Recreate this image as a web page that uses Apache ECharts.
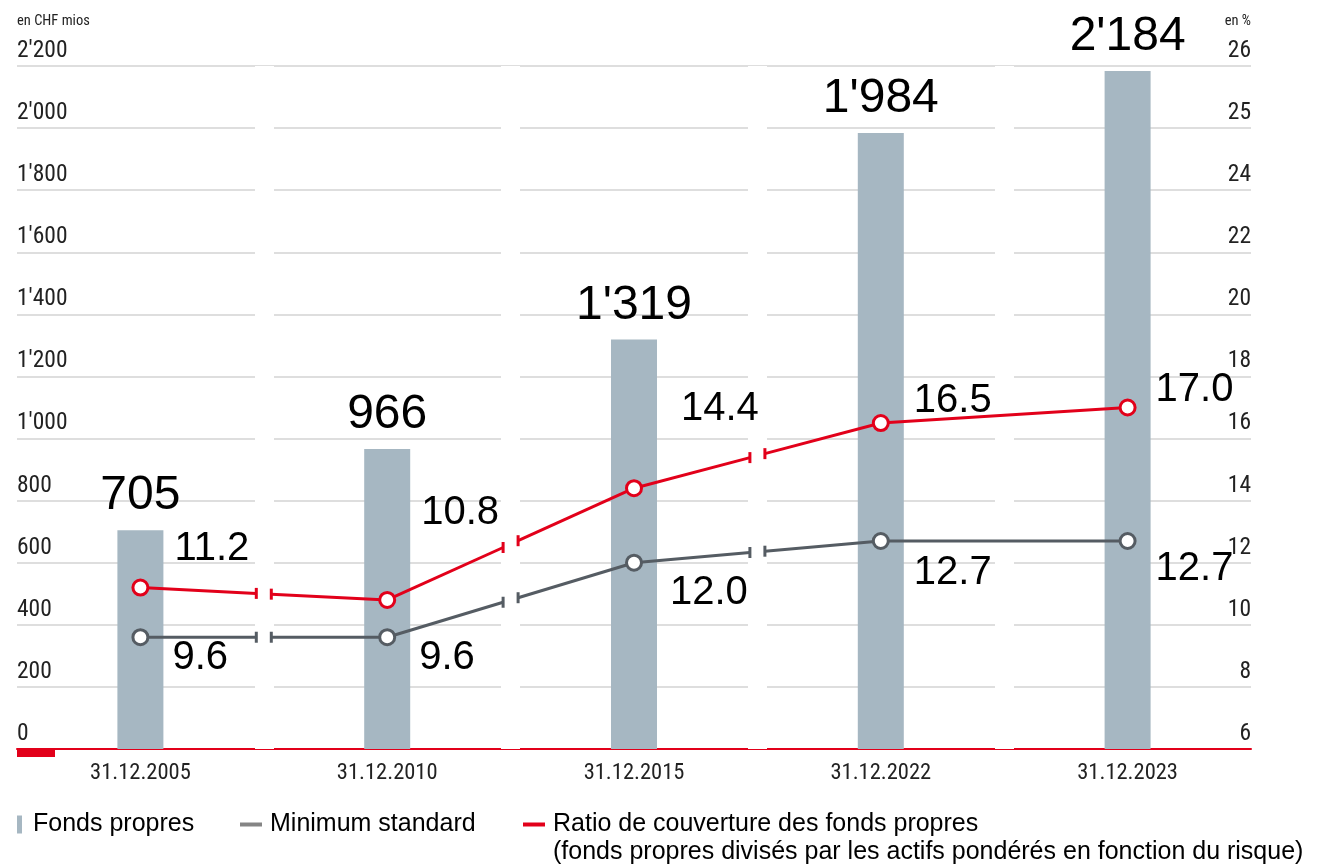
<!DOCTYPE html>
<html>
<head>
<meta charset="utf-8">
<script src="https://cdn.jsdelivr.net/npm/echarts@6/dist/echarts.min.js"></script>
<style>
  html, body { margin: 0; padding: 0; background: #fff; }
  #chart { width: 1319px; height: 864px; }
</style>
</head>
<body>
<div id="chart"></div>
<script>
// ---- data ----
const categories = ['31.12.2005', '31.12.2010', '31.12.2015', '31.12.2022', '31.12.2023'];
const fondsPropres = [705, 966, 1319, 1984, 2184];
const minimumStandard = [9.6, 9.6, 12.0, 12.7, 12.7];
const ratioCouverture = [11.2, 10.8, 14.4, 16.5, 17.0];
const rightTickValues = [6, 8, 10, 12, 14, 16, 18, 20, 22, 24, 26, 28];
const rightTickLabels = ['6', '8', '10', '12', '14', '16', '18', '20', '22', '24', '25', '26'];
const legendNoteText = '(fonds propres divisés par les actifs pondérés en fonction du risque)';

// ---- styling ----
const ratioLabelOffsets = [[0, -39], [0, -87], [13, -79], [-1, -22], [-6, -18]];
const minLabelOffsets = [[-2, 21], [-2, 21], [2, 30], [-1, 32], [-6, 28]];
const segmentBreaks = [true, true, true, false];

const RED = '#e2001a';
const GREY = '#555c63';
const BAR = '#a6b7c2';
const SANS = "'Liberation Sans', Arial, sans-serif";

// pick a condensed font if one is installed
const measureCtx = document.createElement('canvas').getContext('2d');
function textWidth(font, txt) { measureCtx.font = font; return measureCtx.measureText(txt).width; }
function fontAvailable(name) {
  const t = 'mmmwwwiii 31.12.2005';
  return textWidth("40px monospace", t) !== textWidth("40px '" + name + "', monospace", t);
}
const narrowCandidates = ['Liberation Sans Narrow', 'Arial Narrow', 'Roboto Condensed', 'Noto Sans Condensed',
  'Open Sans Condensed', 'DejaVu Sans Condensed', 'Liberation Sans'];
let narrowName = 'Liberation Sans';
for (let k = 0; k < narrowCandidates.length; k++) {
  if (fontAvailable(narrowCandidates[k])) { narrowName = narrowCandidates[k]; break; }
}
const NARROW = "'" + narrowName + "', 'Liberation Sans', sans-serif";
const wRef = textWidth("100px " + NARROW, '31.12.2005');
const axisFontSize = Math.min(24, Math.round(100 * 100 / wRef * 2) / 2);
const wName = textWidth("100px " + NARROW, 'en CHF mios');
const nameFontSize = Math.min(15, Math.round(72 * 100 / wName * 2) / 2);

function fmtThousands(v) {
  return String(v).replace(/\B(?=(\d{3})+(?!\d))/g, "'");
}

function segRenderer(values, color) {
  return function (params, api) {
    const i = params.dataIndex;
    if (i >= values.length - 1) return null;
    const p0 = api.coord([i, values[i]]);
    const p1 = api.coord([i + 1, values[i + 1]]);
    const st = { stroke: color, lineWidth: 3 };
    if (!segmentBreaks[i]) {
      return { type: 'line', shape: { x1: p0[0], y1: p0[1], x2: p1[0], y2: p1[1] }, style: st };
    }
    const bx = (p0[0] + p1[0]) / 2;
    const gap = 7.5, cap = 5.5;
    const yAt = function (x) { return p0[1] + (p1[1] - p0[1]) * (x - p0[0]) / (p1[0] - p0[0]); };
    const xa = bx - gap, xb = bx + gap;
    const ya = yAt(xa), yb = yAt(xb);
    return {
      type: 'group',
      children: [
        { type: 'line', shape: { x1: p0[0], y1: p0[1], x2: xa, y2: ya }, style: st },
        { type: 'line', shape: { x1: xa, y1: ya - cap, x2: xa, y2: ya + cap }, style: st },
        { type: 'line', shape: { x1: xb, y1: yb, x2: p1[0], y2: p1[1] }, style: st },
        { type: 'line', shape: { x1: xb, y1: yb - cap, x2: xb, y2: yb + cap }, style: st }
      ]
    };
  };
}

function pointSeries(name, values, offsets, color) {
  return {
    name: name,
    type: 'line',
    xAxisIndex: 0,
    yAxisIndex: 1,
    z: 4,
    symbol: 'circle',
    symbolSize: 15,
    lineStyle: { opacity: 0, width: 0 },
    itemStyle: { color: '#fff', borderColor: color, borderWidth: 3 },
    label: {
      show: true,
      position: 'right',
      distance: 25,
      fontFamily: SANS,
      fontSize: 40,
      color: '#000',
      formatter: function (p) { return p.value.toFixed(1); }
    },
    emphasis: { disabled: true },
    data: values.map(function (v, i) {
      return { value: v, label: { offset: offsets[i] } };
    })
  };
}

const chart = echarts.init(document.getElementById('chart'), null, { renderer: 'canvas' });

const legendText = { fontFamily: SANS, fontSize: 25, color: '#000' };

const option = {
  animation: false,
  backgroundColor: '#fff',
  grid: { left: 17, right: 68, top: 66, bottom: 115, containLabel: false },
  xAxis: [
    {
      type: 'category',
      data: categories,
      z: 0,
      axisLine: { show: true, lineStyle: { color: RED, width: 2 } },
      axisTick: { show: false },
      axisLabel: { fontFamily: NARROW, fontSize: axisFontSize, color: '#222', margin: 13, interval: 0 },
      splitLine: { show: false }
    },
    {
      type: 'category',
      data: categories,
      position: 'bottom',
      z: 1,
      axisLine: { show: false },
      axisTick: { show: false },
      axisLabel: { show: false },
      splitLine: {
        show: true,
        interval: 0,
        lineStyle: { color: ['rgba(255,255,255,0)', '#fff', '#fff', '#fff', '#fff', 'rgba(255,255,255,0)'], width: 19 }
      }
    }
  ],
  yAxis: [
    {
      type: 'value',
      min: 0, max: 2200, interval: 200,
      name: 'en CHF mios',
      nameLocation: 'end',
      nameGap: 37,
      nameTextStyle: { fontFamily: NARROW, fontSize: nameFontSize, color: '#222', align: 'left' },
      axisLine: { show: false },
      axisTick: { show: false },
      axisLabel: {
        inside: true, margin: 0, fontFamily: NARROW, fontSize: axisFontSize + 1, color: '#222',
        verticalAlign: 'bottom', padding: [0, 0, 3, 0],
        formatter: function (v) { return fmtThousands(v); }
      },
      splitLine: { show: true, lineStyle: { color: '#dedede', width: 2 } }
    },
    {
      type: 'value',
      min: 6, max: 28, interval: 2,
      position: 'right',
      name: 'en %',
      nameLocation: 'end',
      nameGap: 37,
      nameTextStyle: { fontFamily: NARROW, fontSize: nameFontSize, color: '#222', align: 'right' },
      axisLine: { show: false },
      axisTick: { show: false },
      axisLabel: {
        inside: true, margin: 0, fontFamily: NARROW, fontSize: axisFontSize + 1, color: '#222',
        verticalAlign: 'bottom', padding: [0, 0, 3, 0],
        formatter: function (v) {
          const idx = rightTickValues.indexOf(v);
          return idx >= 0 ? rightTickLabels[idx] : '';
        }
      },
      splitLine: { show: false }
    }
  ],
  legend: [
    {
      left: 17, top: 812, padding: 0, itemWidth: 5, itemHeight: 18, itemGap: 0,
      selectedMode: false,
      textStyle: Object.assign({ padding: [0, 0, 0, 6] }, legendText),
      data: [{ name: 'Fonds propres', icon: 'rect', itemStyle: { color: BAR, borderWidth: 0 } }]
    },
    {
      left: 240, top: 812, padding: 0, itemWidth: 22, itemHeight: 4, itemGap: 0,
      selectedMode: false,
      textStyle: Object.assign({ padding: [0, 0, 0, 3] }, legendText),
      data: [{ name: 'Minimum standard', icon: 'rect', itemStyle: { color: '#858585', borderWidth: 0 } }]
    },
    {
      left: 523, top: 812, padding: 0, itemWidth: 22, itemHeight: 4, itemGap: 0,
      selectedMode: false,
      textStyle: Object.assign({ padding: [0, 0, 0, 3] }, legendText),
      data: [{ name: 'Ratio de couverture des fonds propres', icon: 'rect', itemStyle: { color: RED, borderWidth: 0 } }]
    }
  ],
  graphic: [
    { type: 'rect', left: 17, top: 749, z: 100, shape: { width: 38, height: 8 }, style: { fill: RED } },
    { type: 'text', left: 553, top: 840, z: 100,
      style: { text: legendNoteText, font: "25px 'Liberation Sans', Arial, sans-serif", fill: '#000' } }
  ],
  series: [
    {
      name: 'Fonds propres',
      type: 'bar',
      xAxisIndex: 0,
      yAxisIndex: 0,
      barWidth: 46,
      z: 2,
      itemStyle: { color: BAR },
      label: {
        show: true, position: 'top', distance: 10,
        fontFamily: SANS, fontSize: 48, color: '#000',
        formatter: function (p) { return fmtThousands(p.value); }
      },
      emphasis: { disabled: true },
      data: fondsPropres
    },
    {
      name: '_segMin',
      type: 'custom',
      xAxisIndex: 0,
      yAxisIndex: 1,
      z: 3,
      silent: true,
      renderItem: segRenderer(minimumStandard, GREY),
      data: minimumStandard.map(function (v, i) { return [i, v]; })
    },
    {
      name: '_segRatio',
      type: 'custom',
      xAxisIndex: 0,
      yAxisIndex: 1,
      z: 3,
      silent: true,
      renderItem: segRenderer(ratioCouverture, RED),
      data: ratioCouverture.map(function (v, i) { return [i, v]; })
    },
    pointSeries('Minimum standard', minimumStandard, minLabelOffsets, GREY),
    pointSeries('Ratio de couverture des fonds propres', ratioCouverture, ratioLabelOffsets, RED)
  ]
};

chart.setOption(option);
</script>
</body>
</html>
